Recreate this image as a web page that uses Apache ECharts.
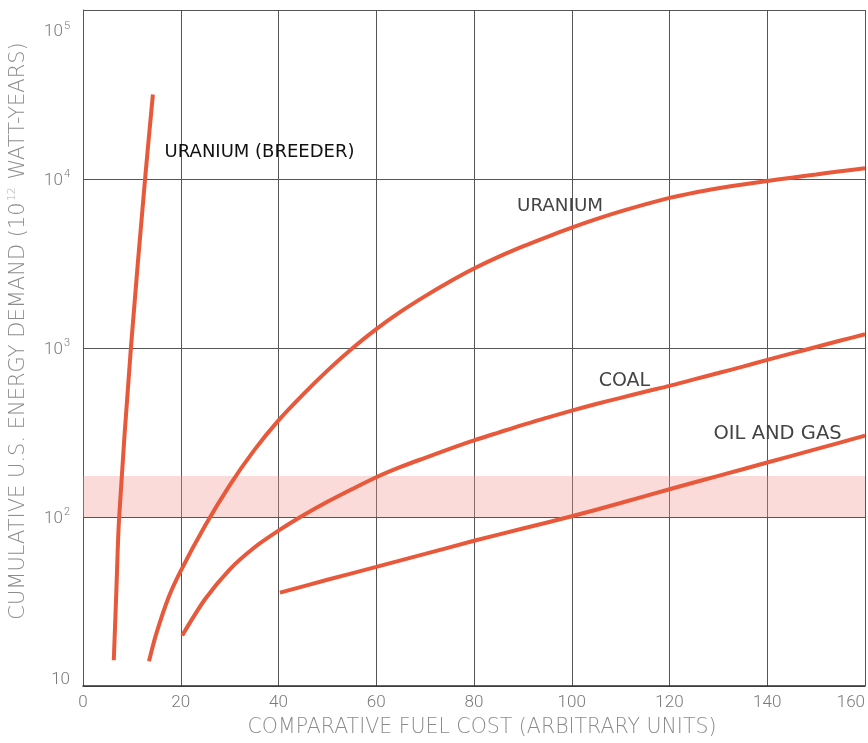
<!DOCTYPE html>
<html>
<head>
<meta charset="utf-8">
<script src="https://cdn.jsdelivr.net/npm/echarts@6/dist/echarts.min.js"></script>
<style>html,body{margin:0;padding:0;background:#fff;}#c{width:868px;height:743px;}</style>
</head>
<body>
<div id="c"></div>
<script>
// ---- data ----
const breederX = [6.3, 6.8, 7.4, 9.8, 12.7, 14.3];
const breederY = [14.2, 35, 100, 1000, 10000, 31600];

const uraniumX = [13.5, 15, 17.5, 20, 25, 30, 35, 40, 45, 50, 55, 60, 65, 70, 75, 80, 85, 90, 95, 100, 105, 110, 115, 120, 125, 130, 135, 140, 145, 150, 155, 160];
const uraniumY = [14, 20.4, 33.4, 48, 89, 154, 248, 373, 530, 735, 991, 1294, 1641, 2028, 2466, 2951, 3459, 3990, 4550, 5152, 5781, 6427, 7079, 7727, 8299, 8810, 9290, 9727, 10186, 10641, 11117, 11588];

const coalX = [20.3, 25, 30, 35, 40, 45, 50, 55, 60, 65, 70, 75, 80, 85, 90, 95, 100, 105, 110, 115, 120, 125, 130, 135, 140, 145, 150, 155, 160];
const coalY = [19.9, 32.7, 48.9, 65.8, 83, 102, 123, 146, 172, 198, 224, 253, 284, 316, 351, 387, 426, 466, 507, 551, 597, 652, 711, 776, 851, 929, 1014, 1107, 1205];

const oilX = [40.3, 50, 60, 70, 80, 90, 100, 110, 120, 130, 140, 150, 160];
const oilY = [35.7, 42.5, 50.7, 60.5, 72.3, 85.5, 101, 121, 146, 175, 210, 252, 303];

const bandRange = [100, 175];

const labelNames = ['URANIUM (BREEDER)', 'URANIUM', 'COAL', 'OIL AND GAS'];
const labelX = [16.7, 88.8, 105.5, 129];
const labelY = [14400, 6940, 640, 312];

const xTitle = 'COMPARATIVE FUEL COST (ARBITRARY UNITS)';
const yTitleA = 'CUMULATIVE U.S. ENERGY DEMAND (10';
const yTitleSup = '12';
const yTitleB = ' WATT-YEARS)';

// ---- chart ----
const LINE = '#e8583a';
const TITLE_FONT = 'DejaVu Sans';
const zip = (xs, ys) => xs.map((x, i) => [x, ys[i]]);
const chart = echarts.init(document.getElementById('c'), null, {renderer: 'canvas'});

const labelSizes = [18, 18.3, 19, 19.5];

function lineSeries(name, xs, ys, labelIdx) {
  const s = {
    name: name,
    type: 'line',
    data: zip(xs, ys),
    smooth: 0.3,
    showSymbol: false,
    symbol: 'none',
    lineStyle: {color: LINE, width: 4, cap: 'butt'},
    z: 5,
    silent: true
  };
  if (labelIdx != null) {
    s.markPoint = {
      silent: true,
      symbol: 'circle',
      symbolSize: 0,
      data: [{
        coord: [labelX[labelIdx], labelY[labelIdx]],
        label: {
          show: true,
          position: 'right',
          distance: 0,
          formatter: labelNames[labelIdx],
          fontFamily: 'DejaVu Sans',
          fontSize: labelSizes[labelIdx],
          color: labelIdx === 0 ? '#111' : '#444'
        }
      }]
    };
  }
  return s;
}

const tickStyle = {fontFamily: 'Roboto', fontWeight: 300, color: '#7a7a7a'};

const option = {
  backgroundColor: '#fff',
  animation: false,
  grid: {left: 83, right: 2, top: 10, bottom: 54, containLabel: false},
  xAxis: {
    type: 'value',
    min: 0, max: 160, interval: 20,
    name: xTitle,
    nameLocation: 'middle',
    nameGap: 31,
    nameTextStyle: {color: '#8c8c8c', fontSize: 20.5, fontFamily: TITLE_FONT, fontWeight: 200, padding: [0, 0, 0, 16]},
    axisLine: {show: true, lineStyle: {color: '#333', width: 1.5}},
    axisTick: {show: false},
    splitLine: {show: true, lineStyle: {color: '#555', width: 1}},
    axisLabel: Object.assign({fontSize: 17, margin: 8, alignMaxLabel: 'right'}, tickStyle)
  },
  yAxis: {
    type: 'log', logBase: 10,
    min: 10, max: 100000,
    axisLine: {show: true, lineStyle: {color: '#555', width: 1}},
    axisTick: {show: false},
    splitLine: {show: true, lineStyle: {color: '#555', width: 1}},
    minorSplitLine: {show: false},
    axisLabel: Object.assign({
      margin: 13,
      fontSize: 17,
      formatter: function (v) {
        const e = Math.round(Math.log10(v));
        if (e === 1) return '{m|10}';
        if (e === 5) return '{tb|10}{ts|' + e + '}';
        return '{b|10}{s|' + e + '}';
      },
      rich: {
        m: Object.assign({fontSize: 17, padding: [0, 0, 12, 0]}, tickStyle),
        b: Object.assign({fontSize: 17, verticalAlign: 'bottom'}, tickStyle),
        s: Object.assign({fontSize: 11, verticalAlign: 'bottom', padding: [0, 0, 9, 1]}, tickStyle),
        tb: Object.assign({fontSize: 17, verticalAlign: 'bottom', padding: [44, 0, 0, 0]}, tickStyle),
        ts: Object.assign({fontSize: 11, verticalAlign: 'bottom', padding: [0, 0, 9, 1]}, tickStyle)
      }
    }, tickStyle)
  },
  graphic: [{
    type: 'text',
    x: 18, y: 331,
    rotation: Math.PI / 2,
    silent: true,
    style: {
      text: '{a|' + yTitleA + '}{s|' + yTitleSup + '}{a|' + yTitleB + '}',
      align: 'center',
      verticalAlign: 'middle',
      rich: {
        a: {fontSize: 21, fontFamily: TITLE_FONT, fontWeight: 200, fill: '#8c8c8c', verticalAlign: 'bottom'},
        s: {fontSize: 11, fontFamily: TITLE_FONT, fontWeight: 200, fill: '#aaa', verticalAlign: 'bottom', padding: [0, 1, 11, 1]}
      }
    }
  }],
  series: [
    {
      type: 'line',
      data: [],
      silent: true,
      z: 1,
      markArea: {
        silent: true,
        itemStyle: {color: 'rgba(240,150,145,0.34)'},
        data: [[{xAxis: 0, yAxis: bandRange[0]}, {xAxis: 160, yAxis: bandRange[1]}]]
      }
    },
    lineSeries('breeder', breederX, breederY, 0),
    lineSeries('uranium', uraniumX, uraniumY, 1),
    lineSeries('coal', coalX, coalY, 2),
    lineSeries('oil', oilX, oilY, 3)
  ]
};
chart.setOption(option);
</script>
</body>
</html>
